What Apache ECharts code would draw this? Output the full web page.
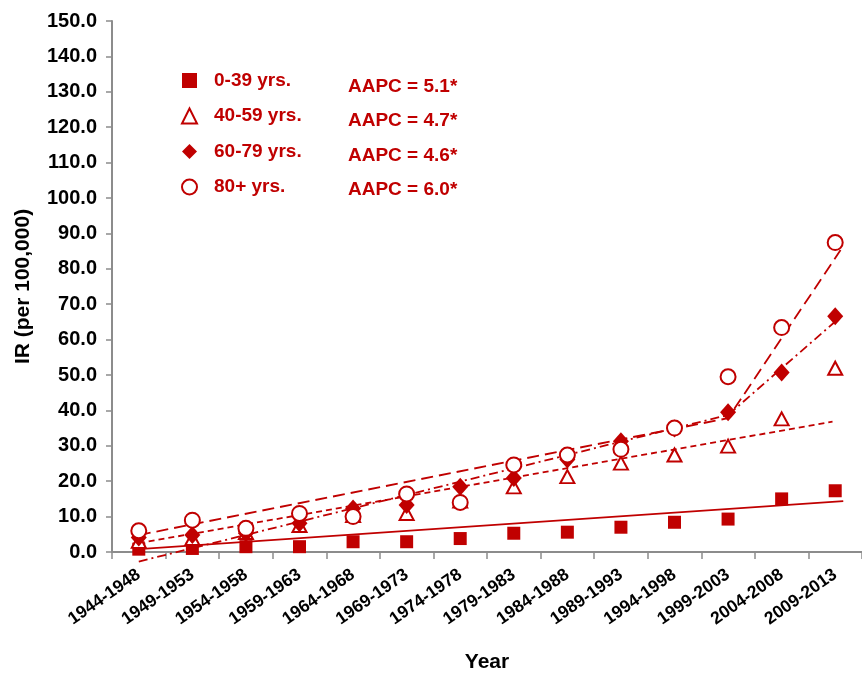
<!DOCTYPE html>
<html>
<head>
<meta charset="utf-8">
<script src="https://cdn.jsdelivr.net/npm/echarts@6/dist/echarts.min.js"></script>
<style>
  html, body { margin: 0; padding: 0; background: #fff; }
  #chart { width: 862px; height: 673px; }
</style>
</head>
<body>
<div id="chart"></div>
<script>
// ---- data ----
const categories = ['1944-1948', '1949-1953', '1954-1958', '1959-1963', '1964-1968', '1969-1973', '1974-1978',
  '1979-1983', '1984-1988', '1989-1993', '1994-1998', '1999-2003', '2004-2008', '2009-2013'];

const age0_39  = [0.8, 1.0, 1.5, 1.5, 2.9, 2.9, 3.8, 5.3, 5.6, 7.0, 8.4, 9.3, 15.0, 17.3];
const age40_59 = [3.0, 3.8, 5.5, 7.5, 10.3, 10.9, 14.4, 18.4, 21.3, 25.1, 27.4, 29.9, 37.6, 51.9];
const age60_79 = [4.1, 4.8, 5.3, 8.1, 12.3, 13.3, 18.4, 20.9, 26.1, 31.3, 34.9, 39.5, 50.7, 66.6];
const age80p   = [6.0, 9.0, 6.7, 10.9, 10.0, 16.4, 14.0, 24.6, 27.4, 29.0, 35.0, 49.5, 63.4, 87.4];

// fitted trend segments: [category position, value]
const trend0_39  = [[0, 0.8], [13.15, 14.4]];
const trend40_59 = [[0, 2.5], [12.95, 36.8]];
const trend60_79 = [[0, -2.7], [11, 38.7], [13, 65.1]];
const trend80p   = [[0, 4.8], [11, 37.8], [13.1, 85.3]];

const seriesNames = ['0-39 yrs.', '40-59 yrs.', '60-79 yrs.', '80+ yrs.'];
const aapcValues = ['5.1*', '4.7*', '4.6*', '6.0*'];

// ---- chart ----
const RED = '#C00000';
const FONT = '"Liberation Sans", Arial, sans-serif';
const chart = echarts.init(document.getElementById('chart'), null, { renderer: 'canvas' });

const scatter = (name, data, symbol, size, empty) => ({
  name, type: 'scatter', xAxisIndex: 0, yAxisIndex: 0, data,
  symbol, symbolSize: size, z: 5,
  itemStyle: empty
    ? { color: RED, borderColor: RED, borderWidth: 1.6, opacity: 1 }
    : { color: RED, opacity: 1 },
  emphasis: { disabled: true }
});
const trend = (data, type) => ({
  type: 'line', xAxisIndex: 1, yAxisIndex: 0, data, symbol: 'none', clip: false, z: 3,
  lineStyle: { color: RED, width: 1.8, type },
  silent: true
});

const option = {
  animation: false,
  backgroundColor: '#fff',
  textStyle: { fontFamily: FONT },
  grid: { left: 112, right: 0, top: 21, bottom: 121, containLabel: false, outerBoundsMode: 'none' },
  xAxis: [
    {
      type: 'category', data: categories, boundaryGap: true,
      name: 'Year', nameLocation: 'middle', nameGap: 100,
      nameTextStyle: { fontFamily: FONT, fontWeight: 'bold', fontSize: 21, color: '#000' },
      axisLine: { onZero: false, lineStyle: { color: '#8c8c8c', width: 2 } },
      axisTick: { show: true, length: 7, lineStyle: { color: '#8c8c8c', width: 1.5 } },
      axisLabel: { rotate: 35, margin: 21, interval: 0, hideOverlap: false, fontFamily: FONT, fontWeight: 'bold', fontSize: 17.5, color: '#000' },
      splitLine: { show: false }
    },
    { type: 'value', min: -0.5, max: 13.5, show: false }
  ],
  yAxis: {
    type: 'value', min: 0, max: 150, interval: 10,
    name: 'IR (per 100,000)', nameLocation: 'middle', nameGap: 78, nameRotate: 90, nameMoveOverlap: false,
    nameTextStyle: { fontFamily: FONT, fontWeight: 'bold', fontSize: 21, color: '#000' },
    axisLine: { show: true, onZero: false, lineStyle: { color: '#8c8c8c', width: 2 } },
    axisTick: { show: true, length: 6, lineStyle: { color: '#8c8c8c', width: 1.5 } },
    axisLabel: { margin: 15, formatter: v => v.toFixed(1), fontFamily: FONT, fontWeight: 'bold', fontSize: 20, color: '#000' },
    splitLine: { show: false }
  },
  legend: {
    orient: 'vertical', left: 176, top: 66, itemWidth: 15, itemHeight: 15, itemGap: 16.5,
    selectedMode: false,
    data: [
      { name: seriesNames[0], icon: 'rect' },
      { name: seriesNames[1], icon: 'emptyTriangle' },
      { name: seriesNames[2], icon: 'diamond' },
      { name: seriesNames[3], icon: 'emptyCircle' }
    ],
    itemStyle: { borderWidth: 1.6 },
    textStyle: { fontFamily: FONT, fontWeight: 'bold', fontSize: 19, color: RED, padding: [0, 0, 0, 12] }
  },
  graphic: aapcValues.map((v, i) => ({
    type: 'text', left: 348, top: 77 + i * 34.5,
    style: { text: 'AAPC = ' + v, fill: RED, font: 'bold 19px ' + FONT }
  })),
  series: [
    trend(trend0_39, 'solid'),
    trend(trend40_59, [6, 4]),
    trend(trend60_79, [9, 4, 2, 4]),
    trend(trend80p, [12, 6]),
    scatter(seriesNames[0], age0_39, 'rect', 13, false),
    scatter(seriesNames[1], age40_59, 'emptyTriangle', [14, 13], true),
    scatter(seriesNames[2], age60_79, 'diamond', [16, 18], false),
    scatter(seriesNames[3], age80p, 'emptyCircle', 15, true)
  ]
};
chart.setOption(option);
</script>
</body>
</html>
